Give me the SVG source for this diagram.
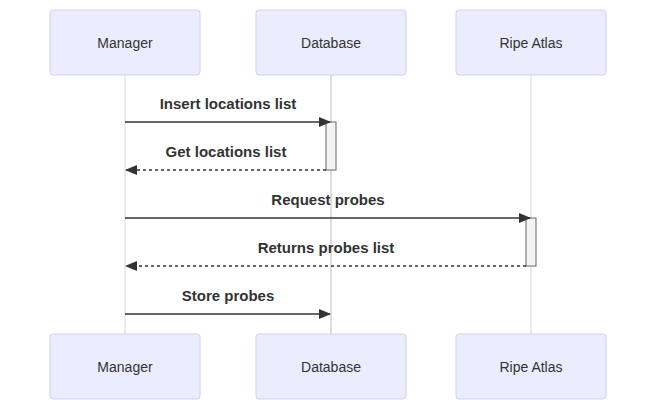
<svg xmlns="http://www.w3.org/2000/svg" width="656" height="400" viewBox="0 0 656 400">
<style>
.actor{fill:#ECECFF;stroke:#d6cdf4;stroke-width:1}
.atext{font-family:"Liberation Sans",Arial,sans-serif;font-size:14px;fill:#333;text-anchor:middle;dominant-baseline:central}
.life{stroke:#d9d9d9;stroke-width:1}
.msg{stroke:#333;stroke-width:1.5;fill:none}
.dash{stroke-dasharray:3,3}
.mtext{font-family:"Liberation Sans",Arial,sans-serif;font-weight:bold;font-size:15px;fill:#333;text-anchor:middle}
.act{fill:#f4f4f4;stroke:#666;stroke-width:1}
</style>
<defs>
<marker id="arrow" viewBox="0 0 12 10" refX="11" refY="5" markerUnits="userSpaceOnUse" markerWidth="12" markerHeight="10" orient="auto">
<path d="M0,0 L12,5 L0,10 z" fill="#333"/>
</marker>
</defs>
<rect width="656" height="400" fill="#fff"/>
<g id="lifelines">
<line class="life" x1="125" y1="75" x2="125" y2="334"/>
<line class="life" x1="331" y1="75" x2="331" y2="334" style="stroke:#aaa;stroke-width:0.8"/>
<line class="life" x1="531" y1="75" x2="531" y2="334"/>
</g>
<g id="manager-top"><rect class="actor" x="50" y="10" width="150" height="65" rx="3"/><text class="atext" x="125" y="42.5">Manager</text></g>
<g id="database-top"><rect class="actor" x="256" y="10" width="150" height="65" rx="3"/><text class="atext" x="331" y="42.5">Database</text></g>
<g id="ripe-top"><rect class="actor" x="456" y="10" width="150" height="65" rx="3"/><text class="atext" x="531" y="42.5">Ripe Atlas</text></g>
<g id="manager-bottom"><rect class="actor" x="50" y="334" width="150" height="65" rx="3"/><text class="atext" x="125" y="366.5">Manager</text></g>
<g id="database-bottom"><rect class="actor" x="256" y="334" width="150" height="65" rx="3"/><text class="atext" x="331" y="366.5">Database</text></g>
<g id="ripe-bottom"><rect class="actor" x="456" y="334" width="150" height="65" rx="3"/><text class="atext" x="531" y="366.5">Ripe Atlas</text></g>
<g id="activations">
<rect class="act" x="326" y="122" width="10" height="48"/>
<rect class="act" x="526" y="218" width="10" height="48"/>
</g>
<g id="connectors">
<line class="msg" x1="125" y1="122" x2="330" y2="122" marker-end="url(#arrow)"/>
<line class="msg dash" x1="326" y1="170" x2="126" y2="170" marker-end="url(#arrow)"/>
<line class="msg" x1="125" y1="218" x2="530" y2="218" marker-end="url(#arrow)"/>
<line class="msg dash" x1="526" y1="266" x2="126" y2="266" marker-end="url(#arrow)"/>
<line class="msg" x1="125" y1="314" x2="330" y2="314" marker-end="url(#arrow)"/>
</g>
<g id="labels">
<text class="mtext" x="228" y="109">Insert locations list</text>
<text class="mtext" x="226" y="157">Get locations list</text>
<text class="mtext" x="328" y="205">Request probes</text>
<text class="mtext" x="326" y="253">Returns probes list</text>
<text class="mtext" x="228" y="301">Store probes</text>
</g>
</svg>
